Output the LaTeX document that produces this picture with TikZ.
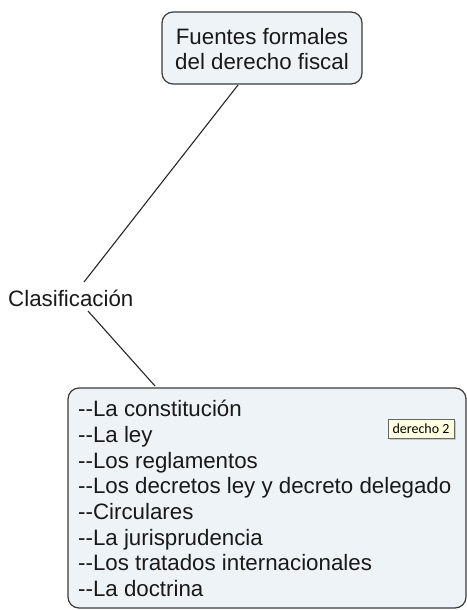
\documentclass[tikz,border=0pt]{standalone}
\usepackage{fontspec}
\setmainfont{Liberation Sans}
\newfontfamily\tagfont{Carlito}
\usetikzlibrary{shadows}
\definecolor{boxfill}{HTML}{EEF3F7}
\definecolor{boxline}{HTML}{3A3A3A}
\definecolor{tagfill}{HTML}{FFFFE1}
\newcommand{\dd}{-{}-}
\tikzset{
  concept/.style={draw=boxline, line width=1.2pt, fill=boxfill, rounded corners=11pt, inner sep=0pt},
  txt/.style={font=\fontsize{22.3}{25.7}\selectfont, text=black!90},
  link/.style={draw=black!85, line width=1.1pt},
  tagbox/.style={draw=black!60, fill=tagfill, line width=0.5pt, inner sep=2pt,
     font=\tagfont\fontsize{14}{16}\selectfont, drop shadow={shadow xshift=1.5pt, shadow yshift=-1.5pt, opacity=0.35}}
}
\begin{document}
\begin{tikzpicture}[x=1pt,y=-1pt]
\useasboundingbox (0,0) rectangle (466,610);
% top concept
\node[concept, minimum width=200pt, minimum height=72pt] (top) at (262,48) {};
\node[txt, align=center] (toptxt) at (262,49) {Fuentes formales\\del derecho fiscal};
% linking phrase
\node[txt, anchor=west, inner sep=0pt] (clas) at (8,298) {Clasificación};
% bottom concept
\node[concept, minimum width=398pt, minimum height=220pt] (bot) at (267,498) {};
\node[txt, align=left, anchor=north west, inner sep=0pt] (list) at (78,400) {\dd La constitución\\\dd La ley\\\dd Los reglamentos\\\dd Los decretos ley y decreto delegado\\\dd Circulares\\\dd La jurisprudencia\\\dd Los tratados internacionales\\\dd La doctrina};
% tag
\node[tagbox, minimum width=66pt, minimum height=19pt] (tag) at (421,429) {derecho 2};
% connectors
\coordinate (t1) at (238,85);
\coordinate (c1) at (84,282);
\coordinate (c2) at (88,311);
\coordinate (b1) at (155,386);
\draw[link] (t1) -- (c1);
\draw[link] (c2) -- (b1);
\end{tikzpicture}
\end{document}
